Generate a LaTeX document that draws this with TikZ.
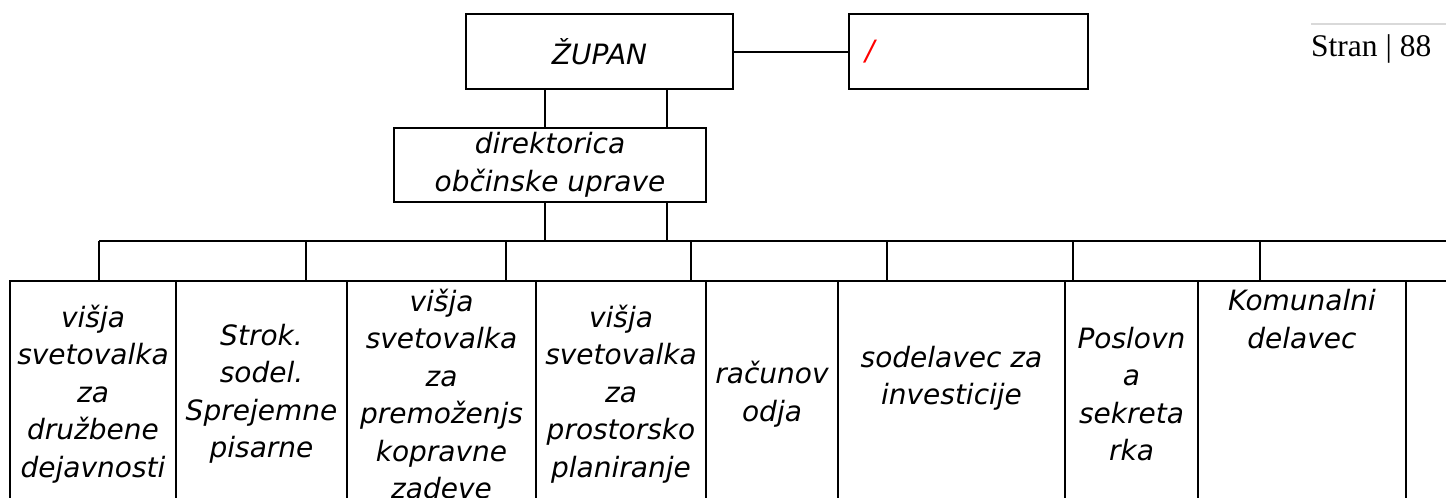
\documentclass[tikz,border=0pt]{standalone}
\usepackage{fontspec}
\setmainfont{DejaVu Sans}
\newfontfamily\pagefont{Liberation Serif}
\begin{document}
\begin{tikzpicture}[x=1pt,y=-1pt,
  bx/.style={draw, line width=2pt, rectangle, inner sep=0pt, align=center,
    font=\fontsize{28}{37.5}\selectfont\itshape},
  ln/.style={line width=2pt}]
\useasboundingbox (0,0) rectangle (1446,498);
\clip (0,0) rectangle (1446,498);
% top level
\node[bx, minimum width=267pt, minimum height=75pt] (zupan) at (599.5,51.5) {ŽUPAN};
\node[bx, minimum width=239pt, minimum height=75pt, text width=207pt, align=left] (vice) at (968.5,51.5) {\textcolor{red}{/}};
\draw[ln] (zupan.east) -- (vice.west);
\node[bx, minimum width=312pt, minimum height=74pt] (dir) at (550,165) {direktorica\\občinske uprave};
\coordinate (cl) at (545,0);
\coordinate (cr) at (667,0);
\draw[ln] (cl |- zupan.south) -- (cl |- dir.north);
\draw[ln] (cr |- zupan.south) -- (cr |- dir.north);
% bus
\coordinate (d1) at (99,241);
\coordinate (d2) at (306,241);
\coordinate (d3) at (506,241);
\coordinate (d4) at (691,241);
\coordinate (d5) at (887,241);
\coordinate (d6) at (1073,241);
\coordinate (d7) at (1260,241);
\coordinate (bend) at (1450,241);
\draw[ln] (cl |- dir.south) -- (cl |- d1);
\draw[ln] (cr |- dir.south) -- (cr |- d1);
\draw[ln] (d1) -- (bend);
% bottom boxes
\node[bx, minimum width=166pt, minimum height=226pt] (b1) at (93,394) {višja\\svetovalka\\za\\družbene\\dejavnosti};
\node[bx, minimum width=171pt, minimum height=226pt] (b2) at (261.5,394) {Strok.\\sodel.\\Sprejemne\\pisarne};
\node[bx, minimum width=189pt, minimum height=226pt] (b3) at (441.5,394) {višja\\svetovalka\\za\\premoženjs\\kopravne\\zadeve};
\node[bx, minimum width=170pt, minimum height=226pt] (b4) at (621,394) {višja\\svetovalka\\za\\prostorsko\\planiranje};
\node[bx, minimum width=132pt, minimum height=226pt] (b5) at (772,394) {računov\\odja};
\node[bx, minimum width=227pt, minimum height=226pt] (b6) at (951.5,394) {sodelavec za\\investicije\\~};
\node[bx, minimum width=133pt, minimum height=226pt] (b7) at (1131.5,394) {Poslovn\\a\\sekreta\\rka};
\node[bx, minimum width=208pt, minimum height=226pt] (b8) at (1302,394) {Komunalni\\delavec\\~\\~\\~\\~};
\node[bx, minimum width=60pt, minimum height=226pt] (b9) at (1436,394) {};
% drops
\foreach \d in {d1,d2,d3,d4,d5,d6,d7}
  \draw[ln] (\d) -- (\d |- b1.north);
% page label
\node[font=\pagefont\fontsize{31.5}{36}\selectfont, anchor=base west, inner sep=0pt] (page) at (1311,56) {Stran | 88};
\coordinate (pl) at (1311,24);
\draw[gray!30, line width=2pt] (pl) -- ++(140,0);
\end{tikzpicture}
\end{document}
